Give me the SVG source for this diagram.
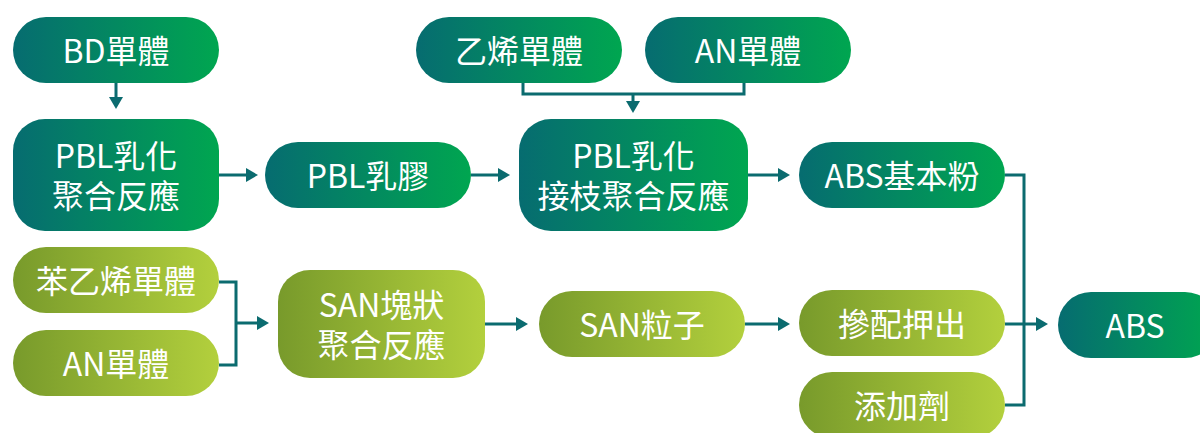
<svg xmlns="http://www.w3.org/2000/svg" width="1200" height="433" viewBox="0 0 1200 433">
  <defs>
    <linearGradient id="gDark" x1="0" y1="0" x2="1" y2="0">
      <stop offset="0" stop-color="#066c70"/>
      <stop offset="1" stop-color="#00a650"/>
    </linearGradient>
    <linearGradient id="gLight" x1="0" y1="0" x2="1" y2="0">
      <stop offset="0" stop-color="#789a2b"/>
      <stop offset="1" stop-color="#b3d03d"/>
    </linearGradient>
    <marker id="arr" markerUnits="userSpaceOnUse" markerWidth="12" markerHeight="14" refX="0" refY="7" orient="auto" overflow="visible">
      <path d="M0,0 L12,7 L0,14 Z" fill="#0b6b6f"/>
    </marker>
    <style>
      .dark { fill: url(#gDark); }
      .light { fill: url(#gLight); }
      .lbl { fill: #ffffff; font-family: "Noto Sans CJK TC", "Noto Sans", sans-serif; font-size: 32px; text-anchor: middle; }
      .con { fill: none; stroke: #0b6b6f; stroke-width: 3; }
    </style>
  </defs>

  <g id="connectors">
    <path class="con" d="M116,83 V97" marker-end="url(#arr)"/>
    <path class="con" d="M219,175 H246" marker-end="url(#arr)"/>
    <path class="con" d="M471,175 H498" marker-end="url(#arr)"/>
    <path class="con" d="M748,175 H778" marker-end="url(#arr)"/>
    <path class="con" d="M523,83 V94 H744 V83"/>
    <path class="con" d="M633,94 V101" marker-end="url(#arr)"/>
    <path class="con" d="M1005,175 H1024 V405 H1005"/>
    <path class="con" d="M1005,324 H1036" marker-end="url(#arr)"/>
    <path class="con" d="M219,282 H236 V365 H219"/>
    <path class="con" d="M236,323 H257" marker-end="url(#arr)"/>
    <path class="con" d="M485,324 H516" marker-end="url(#arr)"/>
    <path class="con" d="M745,324 H778" marker-end="url(#arr)"/>
  </g>

  <g id="bd">
    <rect class="dark" x="13" y="17" width="206" height="66" rx="33"/>
    <text class="lbl" x="116" y="63">BD單體</text>
  </g>
  <g id="ethylene">
    <rect class="dark" x="416" y="17" width="206" height="66" rx="33"/>
    <text class="lbl" x="519" y="63">乙烯單體</text>
  </g>
  <g id="an-top">
    <rect class="dark" x="645" y="17" width="206" height="66" rx="33"/>
    <text class="lbl" x="748" y="63">AN單體</text>
  </g>
  <g id="pbl-emulsion-poly">
    <rect class="dark" x="13" y="119" width="206" height="112" rx="32"/>
    <text class="lbl" x="116" y="168"><tspan x="116" y="168">PBL乳化</tspan><tspan x="116" y="208">聚合反應</tspan></text>
  </g>
  <g id="pbl-latex">
    <rect class="dark" x="265" y="142" width="206" height="66" rx="33"/>
    <text class="lbl" x="368" y="188">PBL乳膠</text>
  </g>
  <g id="pbl-graft">
    <rect class="dark" x="519" y="119" width="229" height="112" rx="32"/>
    <text class="lbl" x="633.5" y="168"><tspan x="633.5" y="168">PBL乳化</tspan><tspan x="633.5" y="208">接枝聚合反應</tspan></text>
  </g>
  <g id="abs-powder">
    <rect class="dark" x="799" y="142" width="206" height="66" rx="33"/>
    <text class="lbl" x="902" y="188">ABS基本粉</text>
  </g>
  <g id="styrene">
    <rect class="light" x="13" y="247" width="206" height="66" rx="33"/>
    <text class="lbl" x="116" y="293">苯乙烯單體</text>
  </g>
  <g id="an-bottom">
    <rect class="light" x="13" y="330" width="206" height="66" rx="33"/>
    <text class="lbl" x="116" y="376">AN單體</text>
  </g>
  <g id="san-bulk">
    <rect class="light" x="278" y="270" width="207" height="108" rx="32"/>
    <text class="lbl" x="381.5" y="317"><tspan x="381.5" y="317">SAN塊狀</tspan><tspan x="381.5" y="357">聚合反應</tspan></text>
  </g>
  <g id="san-particle">
    <rect class="light" x="539" y="291" width="206" height="66" rx="33"/>
    <text class="lbl" x="642" y="337">SAN粒子</text>
  </g>
  <g id="blend-extrude">
    <rect class="light" x="799" y="290" width="206" height="66" rx="33"/>
    <text class="lbl" x="902" y="336">摻配押出</text>
  </g>
  <g id="additive">
    <rect class="light" x="799" y="372" width="206" height="66" rx="33"/>
    <text class="lbl" x="902" y="418">添加劑</text>
  </g>
  <g id="abs">
    <rect class="dark" x="1058" y="292" width="160" height="66" rx="33"/>
    <text class="lbl" x="1135" y="338">ABS</text>
  </g>
</svg>
